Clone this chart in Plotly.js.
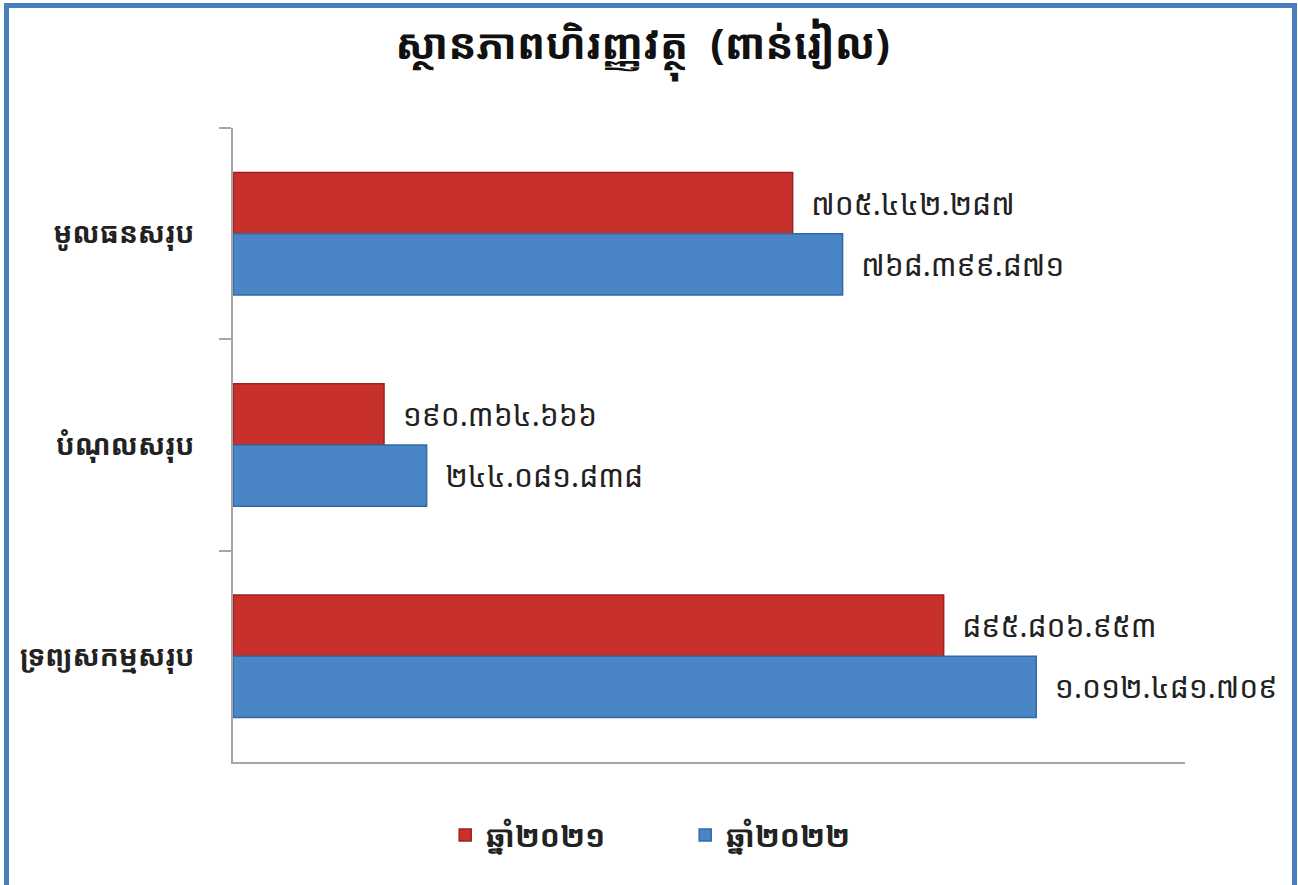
<!DOCTYPE html>
<html>
<head>
<meta charset="utf-8">
<script src="https://cdn.plot.ly/plotly-3.0.1.min.js"></script>
<style>
  html, body { margin: 0; padding: 0; background: #fff; }
  #wrap { position: relative; width: 1298px; height: 885px; }
  #chart { position: absolute; left: 0; top: 0; width: 1298px; height: 885px; }
  #frame { position: absolute; left: 4px; top: 3px; width: 1283px; height: 890px;
           border: 5px solid #4a7ebb; pointer-events: none; }
</style>
</head>
<body>
<div id="wrap">
  <div id="chart"></div>
  <div id="frame"></div>
</div>
<script>
// ---- data ----
const categories = ['មូលធនសរុប', 'បំណុលសរុប', 'ទ្រព្យសកម្មសរុប'];
const seriesNames = ['ឆ្នាំ២០២១', 'ឆ្នាំ២០២២'];
const values2021 = [705442287, 190364666, 895806953];
const values2022 = [768399871, 244081838, 1012481709];
const chartTitle = 'ស្ថានភាពហិរញ្ញវត្ថុ  (ពាន់រៀល)';

const khDigits = '០១២៣៤៥៦៧៨៩';
function khmerNum(v) {
  const s = String(v).replace(/\B(?=(\d{3})+(?!\d))/g, '.');
  return s.replace(/\d/g, d => khDigits[+d]);
}
const FONT = "'Noto Sans Khmer', 'Khmer OS', 'Khmer OS System', 'Noto Sans', sans-serif";

function mk(name, vals, color, line) {
  return {
    type: 'bar', orientation: 'h', name: name,
    y: categories, x: vals,
    text: vals.map(v => '\u00a0\u00a0' + khmerNum(v)),
    textposition: 'outside', cliponaxis: false,
    textfont: { family: FONT, size: 30, color: '#222' },
    marker: { color: color, line: { color: line, width: 1.5 } },
    hoverinfo: 'skip'
  };
}

const data = [
  mk(seriesNames[0], values2021, '#c8302b', '#9a2220'),
  mk(seriesNames[1], values2022, '#4a85c6', '#3469a3')
];

const layout = {
  width: 1298, height: 885,
  margin: { l: 233, r: 113, t: 128, b: 123 },
  paper_bgcolor: '#fff', plot_bgcolor: '#fff',
  font: { family: FONT, color: '#222' },
  barmode: 'group', bargap: 0.42, bargroupgap: 0,
  showlegend: true,
  title: { text: '<b>' + chartTitle + '</b>', font: { family: FONT, size: 42, color: '#111' },
           xref: 'container', x: 0.495, xanchor: 'center', yref: 'container', y: 0.95, yanchor: 'middle' },
  xaxis: { range: [0, 1.2e9], showticklabels: false, showgrid: false, zeroline: false,
           showline: true, linecolor: '#a6a6a6', linewidth: 2, ticks: '' , fixedrange: true},
  yaxis: { type: 'category', categoryorder: 'array', categoryarray: categories, autorange: 'reversed',
           showgrid: false, zeroline: false, showline: true, linecolor: '#a6a6a6', linewidth: 2,
           ticks: 'outside', tickson: 'boundaries', ticklen: 12, tickcolor: '#a6a6a6', tickwidth: 2,
           ticklabelstandoff: 31,
           tickfont: { family: FONT, size: 28, color: '#222', weight: 'bold' } },
  legend: { orientation: 'h', x: 0.475, xanchor: 'center', y: -0.115, yanchor: 'middle',
            font: { family: FONT, size: 30, color: '#222', weight: 'bold' }, entrywidthmode: 'pixels', entrywidth: 195 }
};

Plotly.newPlot('chart', data, layout, { displayModeBar: false, staticPlot: true });
</script>
</body>
</html>
